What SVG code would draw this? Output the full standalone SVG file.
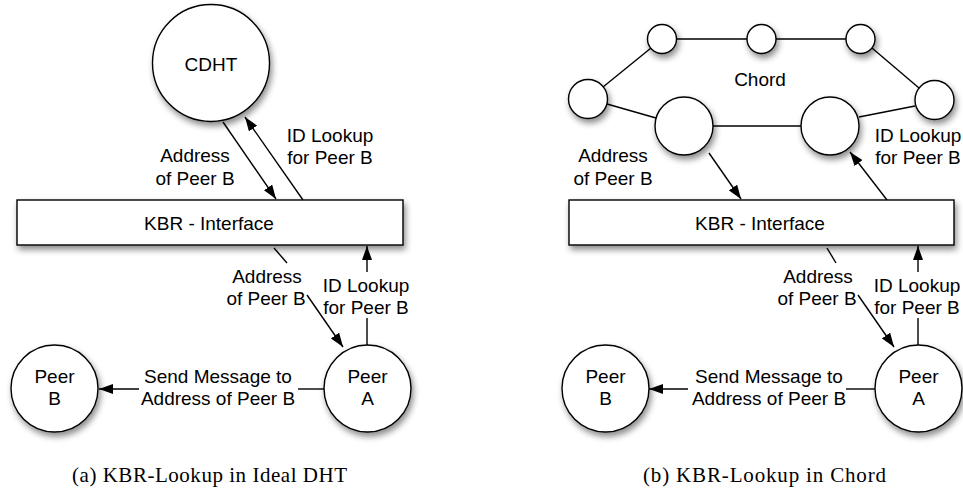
<svg xmlns="http://www.w3.org/2000/svg" width="963" height="494" viewBox="0 0 963 494">
<style>
.node{fill:#fff;stroke:#000;stroke-width:1.4;filter:url(#sh)}
.t{font-family:"Liberation Sans",Arial,sans-serif;font-size:19px;fill:#000;text-anchor:middle}
.cap{font-family:"Liberation Serif","Times New Roman",serif;font-size:21px;fill:#000;text-anchor:middle}
.ln{stroke:#000;stroke-width:1.4;fill:none}
.ar{stroke:#000;stroke-width:1.4;fill:none;marker-end:url(#ah)}
</style>
<defs>
<filter id="sh" x="-30%" y="-30%" width="160%" height="170%">
<feDropShadow dx="2" dy="4" stdDeviation="3" flood-color="#000" flood-opacity="0.45"/>
</filter>
<marker id="ah" viewBox="0 0 14 10" refX="14" refY="5" markerWidth="14" markerHeight="10" markerUnits="userSpaceOnUse" orient="auto">
<path d="M0,0 L14,5 L0,10 z" fill="#000"/>
</marker>
</defs>

<g id="connectors">
<!-- left panel -->
<line class="ar" x1="223" y1="122" x2="276" y2="199"/>
<line class="ar" x1="303" y1="200" x2="245" y2="117"/>
<line class="ln" x1="274" y1="248" x2="287" y2="263"/>
<line class="ar" x1="307" y1="295" x2="343" y2="347"/>
<line class="ar" x1="367" y1="272" x2="367" y2="246"/>
<line class="ln" x1="367" y1="318" x2="367" y2="345"/>
<line class="ln" x1="298" y1="389" x2="324" y2="389"/>
<line class="ar" x1="139" y1="389" x2="99" y2="389"/>
<!-- right panel ring -->
<line class="ln" x1="676" y1="39" x2="747" y2="39"/>
<line class="ln" x1="776" y1="39" x2="846" y2="39"/>
<line class="ln" x1="603" y1="87" x2="651" y2="48"/>
<line class="ln" x1="872" y1="48" x2="919" y2="88"/>
<line class="ln" x1="607" y1="104" x2="656" y2="118"/>
<line class="ln" x1="713" y1="126" x2="801" y2="126"/>
<line class="ln" x1="859" y1="117" x2="915" y2="106"/>
<!-- right panel arrows -->
<line class="ar" x1="709" y1="153" x2="741" y2="199"/>
<line class="ar" x1="887" y1="200" x2="850" y2="152"/>
<line class="ln" x1="827" y1="248" x2="836" y2="263"/>
<line class="ar" x1="858" y1="295" x2="894" y2="347"/>
<line class="ar" x1="918" y1="272" x2="918" y2="246"/>
<line class="ln" x1="918" y1="318" x2="918" y2="345"/>
<line class="ln" x1="846" y1="389" x2="875" y2="389"/>
<line class="ar" x1="688" y1="389" x2="649" y2="389"/>
</g>

<!-- left panel nodes -->
<g id="cdht">
<circle class="node" cx="211" cy="63" r="58.5"/>
<text class="t" x="211" y="71">CDHT</text>
</g>
<g id="kbr-left">
<rect class="node" x="17" y="200" width="386" height="45"/>
<text class="t" x="209" y="230">KBR - Interface</text>
</g>
<g id="peerA-left">
<circle class="node" cx="367.5" cy="388.5" r="43.5"/>
<text class="t" x="367.5" y="383">Peer</text>
<text class="t" x="367.5" y="405">A</text>
</g>
<g id="peerB-left">
<circle class="node" cx="54.5" cy="388.5" r="43.5"/>
<text class="t" x="54.5" y="383">Peer</text>
<text class="t" x="54.5" y="405">B</text>
</g>

<!-- right panel nodes -->
<g id="chord-n1"><circle class="node" cx="662" cy="39" r="14.5"/></g>
<g id="chord-n2"><circle class="node" cx="761.5" cy="39" r="14.5"/></g>
<g id="chord-n3"><circle class="node" cx="860.5" cy="39" r="14.5"/></g>
<g id="chord-n4"><circle class="node" cx="588" cy="99" r="19.5"/></g>
<g id="chord-n5"><circle class="node" cx="934.5" cy="100" r="19.5"/></g>
<g id="chord-n6"><circle class="node" cx="684" cy="126" r="29"/></g>
<g id="chord-n7"><circle class="node" cx="830" cy="126" r="29"/></g>
<g id="kbr-right">
<rect class="node" x="569" y="200" width="385" height="45"/>
<text class="t" x="760" y="230">KBR - Interface</text>
</g>
<g id="peerA-right">
<circle class="node" cx="918.5" cy="388.5" r="43.5"/>
<text class="t" x="918.5" y="383">Peer</text>
<text class="t" x="918.5" y="405">A</text>
</g>
<g id="peerB-right">
<circle class="node" cx="605.5" cy="388.5" r="43.5"/>
<text class="t" x="605.5" y="383">Peer</text>
<text class="t" x="605.5" y="405">B</text>
</g>

<!-- labels -->
<g id="labels">
<text class="t" x="195" y="162">Address</text>
<text class="t" x="195" y="185">of Peer B</text>
<text class="t" x="330" y="142">ID Lookup</text>
<text class="t" x="330" y="164">for Peer B</text>
<text class="t" x="267" y="283">Address</text>
<text class="t" x="266" y="305">of Peer B</text>
<text class="t" x="366" y="292">ID Lookup</text>
<text class="t" x="366" y="314">for Peer B</text>
<text class="t" x="218" y="383">Send Message to</text>
<text class="t" x="218" y="405">Address of Peer B</text>

<text class="t" x="760" y="86">Chord</text>
<text class="t" x="613" y="162">Address</text>
<text class="t" x="613" y="185">of Peer B</text>
<text class="t" x="918" y="142">ID Lookup</text>
<text class="t" x="918" y="164">for Peer B</text>
<text class="t" x="818" y="283">Address</text>
<text class="t" x="817" y="305">of Peer B</text>
<text class="t" x="917" y="292">ID Lookup</text>
<text class="t" x="917" y="314">for Peer B</text>
<text class="t" x="769" y="383">Send Message to</text>
<text class="t" x="769" y="405">Address of Peer B</text>
</g>

<g id="captions">
<text class="cap" x="209.5" y="482" textLength="275" lengthAdjust="spacing">(a) KBR-Lookup in Ideal DHT</text>
<text class="cap" x="764.5" y="482" textLength="243" lengthAdjust="spacing">(b) KBR-Lookup in Chord</text>
</g>
</svg>
